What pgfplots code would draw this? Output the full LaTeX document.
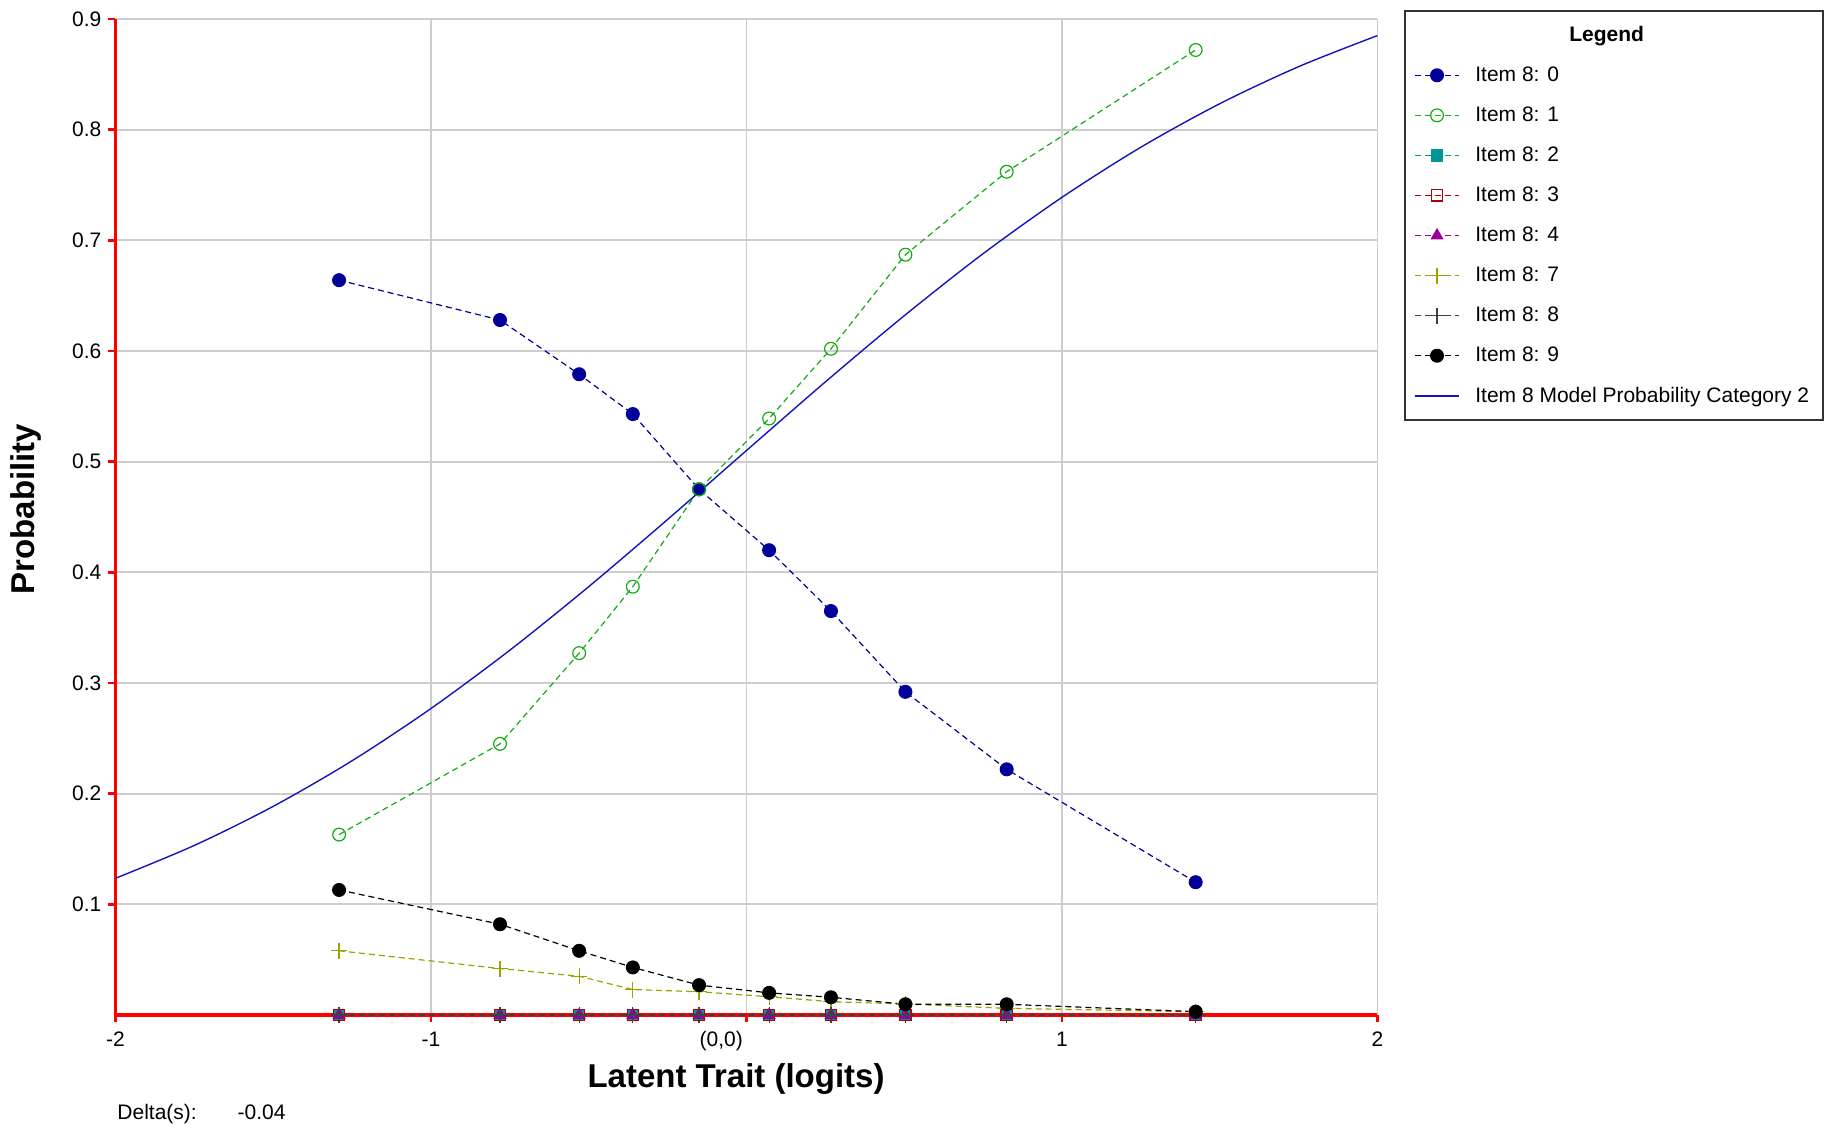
\documentclass[border=0pt]{standalone}
\usepackage{pgfplots}
\pgfplotsset{compat=1.18}
\usepackage{fontspec}
\setmainfont{Liberation Sans}
\definecolor{cNavy}{RGB}{0,0,153}
\definecolor{cGreen}{RGB}{20,170,20}
\definecolor{cTeal}{RGB}{0,150,150}
\definecolor{cDRed}{RGB}{178,0,0}
\definecolor{cPurple}{RGB}{153,0,153}
\definecolor{cOlive}{RGB}{160,160,0}
\definecolor{cGray}{RGB}{64,64,64}
\definecolor{cModel}{RGB}{20,20,190}
\definecolor{cGrid}{RGB}{205,205,205}
\begin{document}
\begin{tikzpicture}[font=\fontsize{10.5}{12}\selectfont]
\begin{axis}[
  at={(57.7pt,54.5pt)}, anchor=south west,
  scale only axis, width=631pt, height=498pt,
  xmin=-2, xmax=2, ymin=0, ymax=0.9,
  axis lines=left,
  axis line style={red, line width=1.7pt, -},
  xtick={-2,-1,0,1,2},
  xticklabels={-2,-1,{},1,2},
  ytick={0.1,0.2,0.3,0.4,0.5,0.6,0.7,0.8,0.9},
  yticklabels={0.1,0.2,0.3,0.4,0.5,0.6,0.7,0.8,0.9},
  tick align=outside,
  major tick length=3.5pt,
  tick style={red, line width=1.2pt},
  xticklabel style={yshift=-1.5pt},
  grid=major,
  major grid style={cGrid, line width=0.9pt},
  xlabel={\fontsize{16.5}{18}\selectfont\bfseries Latent Trait (logits)},
  ylabel={\fontsize{16.5}{18}\selectfont\bfseries Probability},
  xlabel style={at={(axis description cs:0.4918,-0.064)}, anchor=center},
  ylabel style={at={(axis description cs:-0.0708,0.508)}, anchor=center},
  legend style={at={(axis description cs:1.021,1.009)}, anchor=north west,
    draw=black!80, line width=0.8pt, row sep=7.2pt, column sep=6pt,
    inner xsep=5pt, inner ysep=5.5pt,
    font=\fontsize{10.5}{12}\selectfont},
  legend image code/.code={\draw[mark repeat=2,mark phase=2] plot coordinates {(0cm,0cm)(0.38cm,0cm)(0.76cm,0cm)};},
  legend cell align=left,
  every axis plot/.append style={line width=0.6pt},
  clip=false,
]
\addlegendimage{empty legend}
\addlegendentry{\hspace*{47pt}\textbf{Legend}}
% Item 8: 0
\addplot[cNavy, densely dashed, mark=*, mark size=3.2pt, mark options={solid}] coordinates {
(-1.291,0.664) (-0.781,0.628) (-0.530,0.579) (-0.360,0.543) (-0.150,0.475)
(0.072,0.420) (0.268,0.365) (0.504,0.292) (0.825,0.222) (1.424,0.120)};
\addlegendentry{Item 8: 0}
% Item 8: 1
\addplot[cGreen, densely dashed, mark=o, mark size=3.2pt, mark options={solid}] coordinates {
(-1.291,0.163) (-0.781,0.245) (-0.530,0.327) (-0.360,0.387) (-0.150,0.475)
(0.072,0.539) (0.268,0.602) (0.504,0.687) (0.825,0.762) (1.424,0.872)};
\addlegendentry{Item 8: 1}
% Item 8: 2
\addplot[cTeal, densely dashed, mark=square*, mark size=2.8pt, mark options={solid}] coordinates {
(-1.291,0) (-0.781,0) (-0.530,0) (-0.360,0) (-0.150,0)
(0.072,0) (0.268,0) (0.504,0) (0.825,0) (1.424,0)};
\addlegendentry{Item 8: 2}
% Item 8: 3
\addplot[cDRed, densely dashed, mark=square, mark size=2.8pt, mark options={solid}] coordinates {
(-1.291,0) (-0.781,0) (-0.530,0) (-0.360,0) (-0.150,0)
(0.072,0) (0.268,0) (0.504,0) (0.825,0) (1.424,0)};
\addlegendentry{Item 8: 3}
% Item 8: 4
\addplot[cPurple, densely dashed, mark=triangle*, mark size=3.2pt, mark options={solid}] coordinates {
(-1.291,0) (-0.781,0) (-0.530,0) (-0.360,0) (-0.150,0)
(0.072,0) (0.268,0) (0.504,0) (0.825,0) (1.424,0)};
\addlegendentry{Item 8: 4}
% Item 8: 7
\addplot[cOlive, densely dashed, mark=+, mark size=4pt, mark options={solid}] coordinates {
(-1.291,0.058) (-0.781,0.042) (-0.530,0.035) (-0.360,0.023) (-0.150,0.021)
(0.072,0.0165) (0.268,0.012) (0.504,0.010) (0.825,0.006) (1.424,0.003)};
\addlegendentry{Item 8: 7}
% Item 8: 8
\addplot[cGray, densely dashed, mark=+, mark size=4pt, mark options={solid}] coordinates {
(-1.291,0) (-0.781,0) (-0.530,0) (-0.360,0) (-0.150,0)
(0.072,0) (0.268,0) (0.504,0) (0.825,0) (1.424,0)};
\addlegendentry{Item 8: 8}
% Item 8: 9
\addplot[black, densely dashed, mark=*, mark size=3.2pt, mark options={solid}] coordinates {
(-1.291,0.113) (-0.781,0.082) (-0.530,0.058) (-0.360,0.043) (-0.150,0.027)
(0.072,0.020) (0.268,0.016) (0.504,0.0097) (0.825,0.0097) (1.424,0.003)};
\addlegendentry{Item 8: 9}
% Model curve
\addplot[cModel, solid, line width=0.7pt, smooth, mark=none] coordinates {
(-2.00,0.1235) (-1.75,0.1532) (-1.50,0.1885) (-1.25,0.2297) (-1.00,0.2769)
(-0.75,0.3296) (-0.50,0.3870) (-0.25,0.4477) (0.00,0.5100) (0.25,0.5720)
(0.50,0.6318) (0.75,0.6879) (1.00,0.7388) (1.25,0.7841) (1.50,0.8234)
(1.75,0.8569) (2.00,0.8850)};
\addlegendentry{Item 8 Model Probability Category 2}
\node[anchor=north east, inner sep=0pt] at (axis cs:-0.01,-0.014) {(0,0)};
\node[anchor=base west, inner sep=0pt] at (axis description cs:0.0013,-0.105) {Delta(s):};
\node[anchor=base west, inner sep=0pt] at (axis description cs:0.0966,-0.105) {-0.04};
\end{axis}
\pgfresetboundingbox
\path (0,0) rectangle (913.5pt,562pt);
\end{tikzpicture}
\end{document}
